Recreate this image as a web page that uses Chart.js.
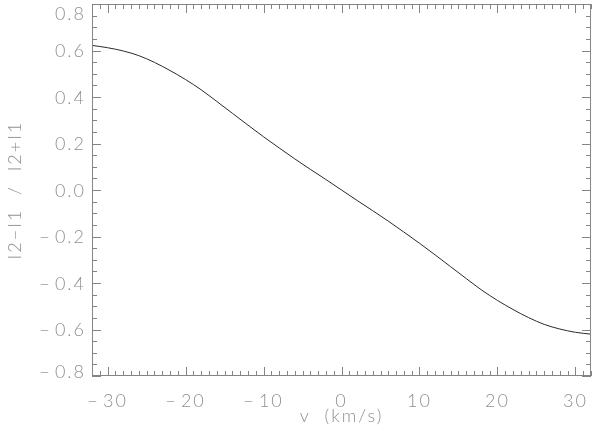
<!DOCTYPE html>
<html>
<head>
<meta charset="utf-8">
<script src="https://cdn.jsdelivr.net/npm/chart.js@4"></script>
<style>
  html, body { margin: 0; padding: 0; background: #fff; }
  canvas { display: block; }
</style>
</head>
<body>
<canvas id="ratioChart" width="600" height="437"></canvas>
<script>
'use strict';

// velocity in km/s, ratio (I2-I1)/(I2+I1)
const velocity = [-32, -30, -28, -26, -24, -22, -20, -18, -16, -14, -12, -10, -8, -6, -4, -2,
  0, 2, 4, 6, 8, 10, 12, 14, 16, 18, 20, 22, 24, 26, 28, 30, 32];
const ratio = [0.622, 0.612, 0.598, 0.578, 0.549, 0.514, 0.475, 0.431, 0.381, 0.330, 0.279,
  0.229, 0.181, 0.134, 0.089, 0.045, 0.000, -0.045, -0.089, -0.134, -0.181, -0.229, -0.279,
  -0.330, -0.381, -0.431, -0.475, -0.514, -0.549, -0.578, -0.598, -0.612, -0.620];
const xTicks = [-30, -20, -10, 0, 10, 20, 30];
const yTicks = [-0.8, -0.6, -0.4, -0.2, 0.0, 0.2, 0.4, 0.6, 0.8];

const axisColor = '#858585';
const textColor = '#909090';
const fontFamily = 'Lato, "DejaVu Sans", sans-serif';
const fontSize = 18;

function signed(v, digits) {
  const s = Math.abs(v).toFixed(digits);
  return v < 0 ? '\u2212\u200a' + s : s;
}

// IDL style box: border on four sides, ticks pointing inwards
const idlBox = {
  id: 'idlBox',
  beforeDraw(chart) {
    // the vector font of the original is widely spaced
    chart.ctx.letterSpacing = '2px';
  },
  afterDraw(chart) {
    const {ctx, chartArea: a, scales: {x, y}} = chart;
    ctx.save();
    ctx.strokeStyle = axisColor;
    ctx.lineWidth = 1;
    ctx.strokeRect(a.left + 0.5, a.top + 0.5, a.right - a.left - 1, a.bottom - a.top - 1);

    ctx.beginPath();
    for (let v = x.min; v <= x.max; v++) {
      const px = Math.round(x.getPixelForValue(v)) + 0.5;
      const len = v % 10 === 0 ? 9 : 5;
      ctx.moveTo(px, a.bottom); ctx.lineTo(px, a.bottom - len);
      ctx.moveTo(px, a.top); ctx.lineTo(px, a.top + len);
    }
    for (let i = -16; i <= 16; i++) {
      const v = i * 0.05;
      const py = Math.round(y.getPixelForValue(v)) + 0.5;
      const len = i % 4 === 0 ? 9 : 5;
      ctx.moveTo(a.left, py); ctx.lineTo(a.left + len, py);
      ctx.moveTo(a.right, py); ctx.lineTo(a.right - len, py);
    }
    ctx.stroke();

    ctx.fillStyle = textColor;
    ctx.font = '300 ' + fontSize + 'px ' + fontFamily;
    ctx.textAlign = 'right';
    ctx.textBaseline = 'middle';
    yTicks.forEach(v => {
      let py = y.getPixelForValue(v);
      py = Math.min(Math.max(py, a.top + 9), a.bottom - 5);
      ctx.fillText(signed(v, 1), a.left - 6, py + 1);
    });
    ctx.restore();
  }
};

const ctx = document.getElementById('ratioChart');
const ratioChart = new Chart(ctx, {
  type: 'line',
  data: {
    labels: velocity,
    datasets: [{
      data: velocity.map((v, i) => ({x: v, y: ratio[i]})),
      borderColor: '#2a2a2a',
      borderWidth: 1,
      pointRadius: 0,
      cubicInterpolationMode: 'monotone',
      fill: false
    }]
  },
  options: {
    responsive: false,
    animation: false,
    devicePixelRatio: 1,
    layout: { padding: { top: 4, right: 4, left: 0, bottom: 0 } },
    plugins: { legend: { display: false }, tooltip: { enabled: false } },
    scales: {
      x: {
        type: 'linear',
        min: -32,
        max: 32,
        grid: { display: false, drawTicks: false },
        border: { display: false },
        afterBuildTicks: s => { s.ticks = xTicks.map(v => ({value: v})); },
        afterFit: s => { s.height = 61; },
        ticks: {
          color: textColor,
          padding: 14,
          maxRotation: 0,
          autoSkip: false,
          font: { family: fontFamily, size: fontSize, weight: 300 },
          callback: v => signed(v, 0)
        },
        title: {
          display: true,
          text: 'v  (km/s)',
          color: textColor,
          padding: { top: 0, bottom: 10 },
          font: { family: fontFamily, size: fontSize, weight: 300 }
        }
      },
      y: {
        type: 'linear',
        min: -0.8,
        max: 0.8,
        grid: { display: false, drawTicks: false },
        border: { display: false },
        afterFit: s => { s.width = 92; },
        ticks: { display: false },
        title: {
          display: true,
          text: 'I2\u2212I1  /  I2+I1',
          color: textColor,
          padding: { top: 4, bottom: 0 },
          font: { family: fontFamily, size: fontSize, weight: 300 }
        }
      }
    }
  },
  plugins: [idlBox]
});
</script>
</body>
</html>
